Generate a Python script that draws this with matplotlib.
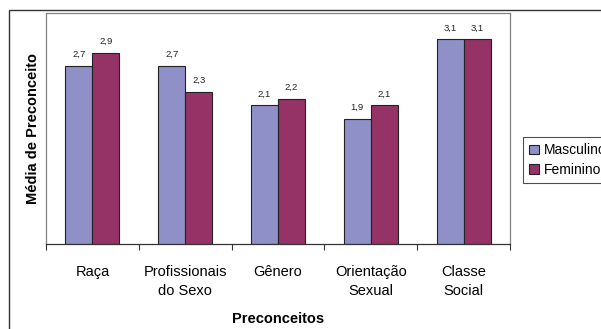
import numpy as np
import matplotlib
matplotlib.use("Agg")
import matplotlib.pyplot as plt
from matplotlib.patches import Rectangle

plt.rcParams['font.family'] = ['Liberation Sans', 'DejaVu Sans']

categories = ["Raça", "Profissionais\ndo Sexo", "Gênero", "Orientação\nSexual", "Classe\nSocial"]
masculino = [2.7, 2.7, 2.1, 1.9, 3.1]
feminino = [2.9, 2.3, 2.2, 2.1, 3.1]
series_names = ["Masculino", "Feminino"]

C_MASC = "#9090C8"
C_FEM = "#963366"

W, H = 601, 329
fig = plt.figure(figsize=(W / 100, H / 100), dpi=100)
# plot area in pixels: x 46..510, y 13..244
ax = fig.add_axes([46 / W, 1 - 244 / H, (510 - 46) / W, (244 - 13) / H])

x = np.arange(len(categories))
bw = 0.29
b1 = ax.bar(x - bw / 2, masculino, bw, color=C_MASC, edgecolor="#222222",
            linewidth=0.8, label=series_names[0])
b2 = ax.bar(x + bw / 2, feminino, bw, color=C_FEM, edgecolor="#222222",
            linewidth=0.8, label=series_names[1])

for bars, vals in ((b1, masculino), (b2, feminino)):
    for b, v in zip(bars, vals):
        ax.annotate(f"{v:.1f}".replace(".", ","),
                    (b.get_x() + b.get_width() / 2, v),
                    xytext=(0, 5), textcoords="offset points",
                    ha="center", va="bottom", fontsize=6.8, color="#222222")

ax.set_xlim(-0.5, len(categories) - 0.5)
ax.set_ylim(0, 3.5)
ax.set_yticks([])
ax.set_xticks(x)
ax.set_xticklabels(categories, fontsize=10.5, linespacing=1.5)
ax.set_xticks(np.arange(len(categories) + 1) - 0.5, minor=True)
ax.tick_params(axis="x", which="major", length=0, pad=15)
ax.tick_params(axis="x", which="minor", length=4, width=0.8, color="#333333",
               direction="out")
for s in ("top", "left", "right"):
    ax.spines[s].set_color("#808080")
    ax.spines[s].set_linewidth(0.9)
ax.spines["bottom"].set_color("#333333")
ax.spines["bottom"].set_linewidth(0.9)

ax.set_ylabel("Média de Preconceito", fontsize=10.5, fontweight="bold",
              labelpad=4)
ax.set_xlabel("Preconceitos", fontsize=10.5, fontweight="bold", labelpad=10)

# outer chart frame (extends past the image edge)
fig.patches.append(Rectangle((9 / W, -0.1), 1.2, 1 - 10 / H + 0.1,
                             transform=fig.transFigure, fill=False,
                             edgecolor="#333333", linewidth=1.0,
                             clip_on=False))

leg = fig.legend(loc="upper left", bbox_to_anchor=(523 / W, 1 - 137 / H),
                 fontsize=10, frameon=True, fancybox=False,
                 edgecolor="#222222", handlelength=0.7, handleheight=0.7,
                 handletextpad=0.35, borderpad=0.45, labelspacing=0.4,
                 borderaxespad=0)
leg.get_frame().set_linewidth(0.8)

fig.savefig("out.png", dpi=100)
